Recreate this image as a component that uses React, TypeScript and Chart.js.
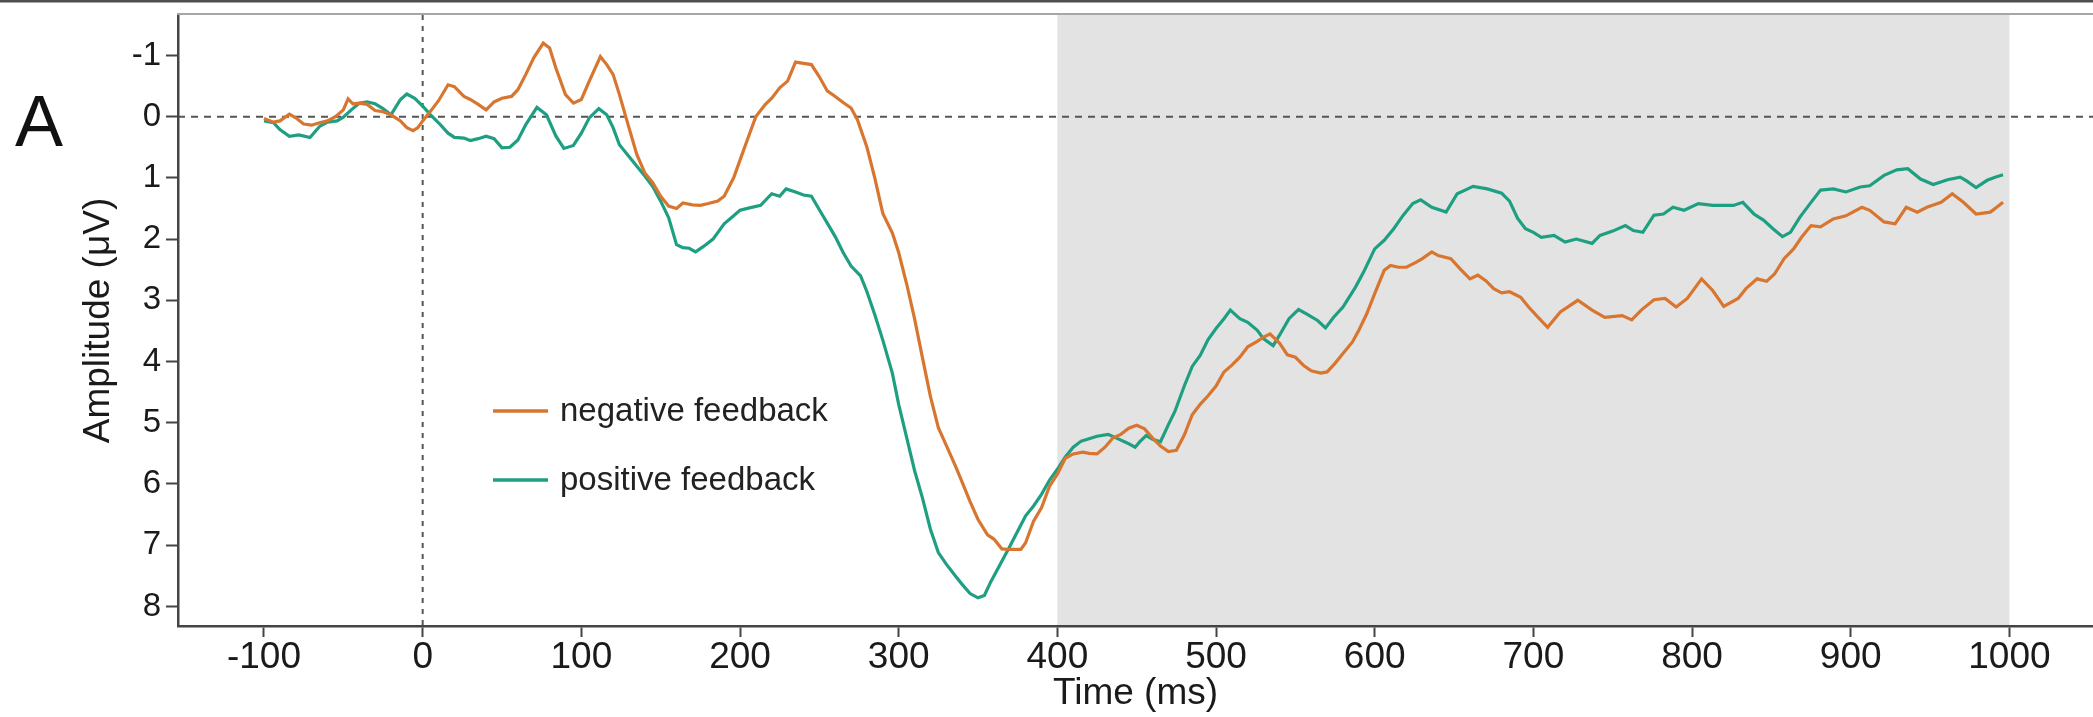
import React, { useEffect, useRef } from "react";
import { Chart, registerables } from "chart.js";

Chart.register(...registerables);

// ---------- data ----------
const panelLabel = "A";
const seriesLabels = ["negative feedback", "positive feedback"];
const xTickValues = [-100, 0, 100, 200, 300, 400, 500, 600, 700, 800, 900, 1000];
const yTickValues = [-1, 0, 1, 2, 3, 4, 5, 6, 7, 8];
const shadeRange = [400, 1000];
const xAxisTitle = "Time (ms)";
const yAxisTitle = "Amplitude (μV)";

const negTimes = [
  -100, -94, -90, -84, -80, -75, -70, -65, -60, -55, -50, -47, -44, -40, -35, -30, -25, -20, -14, -10,
  -6, -3, 0, 5, 10, 16, 20, 26, 30, 35, 40, 45, 50, 56, 60, 65, 70, 76, 80, 84,
  90, 95, 100, 105, 112, 116, 120, 124, 130, 135, 140, 145, 150, 155, 160, 164, 170, 175, 180, 186,
  190, 196, 200, 206, 210, 216, 220, 225, 230, 235, 240, 245, 250, 255, 260, 265, 270, 274, 280, 285,
  290, 296, 300, 305, 310, 315, 320, 325, 330, 336, 340, 345, 350, 356, 360, 365, 370, 377, 380, 385,
  390, 395, 400, 405, 410, 416, 420, 425, 430, 435, 440, 445, 450, 455, 460, 465, 470, 475, 480, 485,
  490, 495, 500, 505, 510, 515, 520, 526, 530, 534, 540, 545, 550, 555, 560, 566, 570, 575, 580, 586,
  590, 595, 600, 606, 610, 615, 620, 626, 630, 636, 640, 648, 654, 660, 665, 670, 675, 680, 685, 692,
  697, 702, 709, 717, 728, 737, 745, 756, 762, 768, 776, 783, 790, 797, 806, 813, 820, 829, 834, 841,
  847, 852, 858, 864, 869, 875, 881, 889, 897, 907, 912, 921, 928, 935, 942, 948, 957, 964, 971, 979,
  988, 992, 996,
];
const negValues = [
  0.03, 0.09, 0.07, -0.04, 0.02, 0.12, 0.14, 0.1, 0.07, 0.0, -0.11, -0.29, -0.21, -0.22, -0.2, -0.1, -0.08, -0.03, 0.07, 0.18,
  0.23, 0.18, 0.07, -0.09, -0.26, -0.52, -0.49, -0.33, -0.28, -0.2, -0.11, -0.24, -0.3, -0.33, -0.44, -0.69, -0.96, -1.2, -1.12, -0.79,
  -0.36, -0.22, -0.28, -0.58, -0.98, -0.85, -0.69, -0.36, 0.18, 0.62, 0.92, 1.08, 1.3, 1.46, 1.5, 1.41, 1.44, 1.45, 1.42, 1.38,
  1.3, 1.0, 0.71, 0.28, 0.0, -0.2, -0.3, -0.47, -0.58, -0.89, -0.87, -0.85, -0.65, -0.42, -0.33, -0.23, -0.14, 0.05, 0.5, 1.01,
  1.58, 1.9, 2.22, 2.73, 3.3, 3.94, 4.57, 5.08, 5.37, 5.72, 5.97, 6.29, 6.58, 6.83, 6.9, 7.06, 7.07, 7.07, 6.96, 6.61,
  6.39, 6.04, 5.84, 5.58, 5.51, 5.48, 5.5, 5.51, 5.4, 5.25, 5.19, 5.09, 5.04, 5.1, 5.25, 5.38, 5.47, 5.45, 5.2, 4.87,
  4.7, 4.56, 4.4, 4.17, 4.06, 3.93, 3.76, 3.67, 3.6, 3.55, 3.7, 3.89, 3.93, 4.06, 4.15, 4.19, 4.17, 4.03, 3.87, 3.68,
  3.49, 3.22, 2.89, 2.51, 2.43, 2.46, 2.46, 2.38, 2.32, 2.21, 2.27, 2.32, 2.49, 2.65, 2.59, 2.68, 2.81, 2.88, 2.86, 2.95,
  3.11, 3.25, 3.44, 3.19, 3.0, 3.16, 3.28, 3.25, 3.32, 3.16, 2.99, 2.97, 3.11, 2.97, 2.65, 2.84, 3.1, 2.97, 2.81, 2.65,
  2.69, 2.57, 2.32, 2.16, 1.97, 1.78, 1.8, 1.67, 1.62, 1.48, 1.53, 1.72, 1.75, 1.48, 1.56, 1.48, 1.4, 1.26, 1.4, 1.59,
  1.56, 1.48, 1.4,
];

const posTimes = [
  -100, -94, -90, -84, -78, -71, -65, -60, -54, -50, -45, -40, -35, -30, -25, -20, -14, -10, -5, 0,
  5, 10, 16, 20, 26, 30, 35, 40, 45, 50, 55, 60, 65, 72, 78, 84, 89, 95, 100, 105,
  111, 116, 120, 124, 130, 135, 140, 145, 150, 155, 160, 164, 168, 172, 177, 183, 190, 196, 200, 206,
  213, 220, 225, 229, 235, 240, 245, 250, 255, 260, 265, 270, 276, 280, 285, 290, 296, 300, 305, 310,
  315, 320, 325, 330, 336, 340, 345, 350, 354, 358, 364, 370, 377, 380, 385, 390, 395, 400, 405, 410,
  415, 420, 425, 432, 438, 444, 449, 452, 456, 460, 465, 470, 474, 480, 485, 490, 495, 500, 505, 509,
  515, 520, 526, 530, 536, 540, 546, 552, 557, 564, 569, 574, 580, 588, 593, 600, 606, 612, 618, 624,
  629, 636, 645, 652, 657, 662, 671, 680, 685, 690, 695, 700, 705, 713, 720, 727, 737, 742, 750, 758,
  763, 769, 776, 782, 788, 795, 804, 813, 826, 832, 839, 845, 851, 857, 862, 868, 875, 881, 889, 897,
  906, 912, 921, 929, 936, 944, 952, 961, 969, 973, 979, 986, 991, 996,
];
const posValues = [
  0.07, 0.1, 0.21, 0.32, 0.3, 0.34, 0.16, 0.09, 0.07, 0.01, -0.11, -0.22, -0.24, -0.21, -0.13, -0.03, -0.28, -0.37, -0.3, -0.17,
  -0.03, 0.1, 0.27, 0.34, 0.35, 0.39, 0.36, 0.32, 0.36, 0.51, 0.5, 0.38, 0.13, -0.15, -0.03, 0.32, 0.52, 0.47, 0.27, 0.02,
  -0.13, -0.03, 0.18, 0.46, 0.65, 0.81, 0.97, 1.14, 1.38, 1.65, 2.09, 2.14, 2.15, 2.21, 2.12, 2.0, 1.75, 1.62, 1.53, 1.49,
  1.45, 1.26, 1.3, 1.18, 1.23, 1.28, 1.3, 1.52, 1.74, 1.96, 2.22, 2.44, 2.6, 2.86, 3.24, 3.65, 4.19, 4.7, 5.24, 5.78,
  6.23, 6.74, 7.12, 7.31, 7.51, 7.64, 7.79, 7.86, 7.82, 7.6, 7.31, 7.02, 6.67, 6.52, 6.36, 6.17, 5.94, 5.76, 5.56, 5.4,
  5.3, 5.26, 5.22, 5.19, 5.26, 5.33, 5.4, 5.31, 5.21, 5.27, 5.31, 5.03, 4.82, 4.4, 4.08, 3.9, 3.64, 3.46, 3.3, 3.16,
  3.3, 3.36, 3.49, 3.63, 3.74, 3.57, 3.3, 3.15, 3.22, 3.33, 3.45, 3.28, 3.11, 2.78, 2.54, 2.16, 2.02, 1.83, 1.61, 1.42,
  1.36, 1.48, 1.56, 1.26, 1.2, 1.14, 1.18, 1.25, 1.38, 1.66, 1.83, 1.89, 1.97, 1.94, 2.05, 2.0, 2.07, 1.94, 1.87, 1.78,
  1.86, 1.89, 1.61, 1.59, 1.48, 1.53, 1.42, 1.45, 1.45, 1.4, 1.59, 1.69, 1.83, 1.96, 1.89, 1.64, 1.4, 1.2, 1.18, 1.23,
  1.15, 1.13, 0.96, 0.87, 0.85, 1.02, 1.11, 1.03, 0.99, 1.05, 1.16, 1.04, 0.99, 0.95,
];

// ---------- styles ----------
const W = 2093;
const H = 717;
const FONT = '"Liberation Sans", Arial, Helvetica, sans-serif';
const ORANGE = "#d87630";
const GREEN = "#1f9f81";
const TEXT = "#1a1a1a";
const AXIS = "#444444";

const decorPlugin = {
  id: "decor",
  beforeDraw(chart: any) {
    const { ctx, chartArea: a, scales } = chart;
    const x = scales.x;
    const y = scales.y;
    ctx.save();
    ctx.fillStyle = "#ffffff";
    ctx.fillRect(0, 0, chart.width, chart.height);
    // shaded analysis window
    const sx0 = x.getPixelForValue(shadeRange[0]);
    const sx1 = x.getPixelForValue(shadeRange[1]);
    ctx.fillStyle = "#e3e3e3";
    ctx.fillRect(sx0, a.top, sx1 - sx0, a.bottom - a.top);
    // dashed reference lines
    ctx.strokeStyle = "#555555";
    ctx.lineWidth = 2;
    ctx.setLineDash([7, 6]);
    const y0 = y.getPixelForValue(0);
    ctx.beginPath();
    ctx.moveTo(a.left, y0);
    ctx.lineTo(a.right, y0);
    ctx.stroke();
    ctx.setLineDash([5, 6]);
    const x0 = x.getPixelForValue(0);
    ctx.beginPath();
    ctx.moveTo(x0, a.top);
    ctx.lineTo(x0, a.bottom);
    ctx.stroke();
    ctx.restore();
  },
  afterDraw(chart: any) {
    const { ctx, chartArea: a } = chart;
    ctx.save();
    // frame top
    ctx.fillStyle = "#4e4e4e";
    ctx.fillRect(0, 0, chart.width, 2.5);
    ctx.strokeStyle = "#a6a6a6";
    ctx.lineWidth = 2;
    ctx.beginPath();
    ctx.moveTo(a.left - 1, a.top - 1);
    ctx.lineTo(a.right, a.top - 1);
    ctx.stroke();
    // panel label
    ctx.fillStyle = "#111111";
    ctx.font = `72px ${FONT}`;
    ctx.textAlign = "left";
    ctx.textBaseline = "alphabetic";
    ctx.fillText(panelLabel, 15, 146);
    // legend
    const items = [
      { label: seriesLabels[0], color: ORANGE, dy: 396 },
      { label: seriesLabels[1], color: GREEN, dy: 465 },
    ];
    ctx.font = `33px ${FONT}`;
    ctx.textBaseline = "middle";
    items.forEach((it) => {
      const ly = a.top + it.dy;
      ctx.strokeStyle = it.color;
      ctx.lineWidth = 3.5;
      ctx.beginPath();
      ctx.moveTo(a.left + 315, ly);
      ctx.lineTo(a.left + 370, ly);
      ctx.stroke();
      ctx.fillStyle = "#222222";
      ctx.fillText(it.label, a.left + 382, ly + 1);
    });
    ctx.restore();
  },
};

export default function App() {
  const canvasRef = useRef<HTMLCanvasElement | null>(null);

  useEffect(() => {
    document.body.style.margin = "0";
    const canvas = canvasRef.current;
    if (!canvas) return;
    const chart = new Chart(canvas, {
      type: "line",
      data: {
        datasets: [
          {
            label: seriesLabels[0],
            data: negTimes.map((t, i) => ({ x: t, y: negValues[i] })),
            borderColor: ORANGE,
            backgroundColor: ORANGE,
            borderWidth: 3.2,
            pointRadius: 0,
            tension: 0,
            fill: false,
          },
          {
            label: seriesLabels[1],
            data: posTimes.map((t, i) => ({ x: t, y: posValues[i] })),
            borderColor: GREEN,
            backgroundColor: GREEN,
            borderWidth: 3.2,
            pointRadius: 0,
            tension: 0,
            fill: false,
          },
        ],
      },
      options: {
        responsive: false,
        animation: false,
        devicePixelRatio: 1,
        layout: { padding: { top: 15, left: 0, right: 0, bottom: 0 } },
        plugins: {
          legend: { display: false },
          tooltip: { enabled: false },
        },
        scales: {
          x: {
            type: "linear",
            min: -154.2,
            max: 1052.7,
            afterBuildTicks: (s: any) => {
              s.ticks = xTickValues.map((v) => ({ value: v }));
            },
            afterFit: (s: any) => {
              s.height = 91;
              s.paddingLeft = 0;
              s.paddingRight = 0;
            },
            grid: {
              display: true,
              drawOnChartArea: false,
              drawTicks: true,
              tickLength: 11,
              tickColor: AXIS,
              tickWidth: 2,
            },
            border: { display: true, color: AXIS, width: 2.5 },
            ticks: {
              autoSkip: false,
              maxRotation: 0,
              padding: 2,
              color: TEXT,
              font: { family: FONT, size: 37, lineHeight: 1 },
              callback: (v: any) => String(v),
            },
            title: {
              display: true,
              text: xAxisTitle,
              color: TEXT,
              font: { family: FONT, size: 37 },
              padding: { top: 0, bottom: 1 },
            },
          },
          y: {
            type: "linear",
            reverse: true,
            min: -1.66,
            max: 8.32,
            afterBuildTicks: (s: any) => {
              s.ticks = yTickValues.map((v) => ({ value: v }));
            },
            afterFit: (s: any) => {
              s.width = 178;
              s.paddingTop = 0;
              s.paddingBottom = 0;
            },
            grid: {
              display: true,
              drawOnChartArea: false,
              drawTicks: true,
              tickLength: 12,
              tickColor: AXIS,
              tickWidth: 2,
            },
            border: { display: true, color: AXIS, width: 2.5 },
            ticks: {
              autoSkip: false,
              padding: 5,
              color: TEXT,
              font: { family: FONT, size: 33, lineHeight: 1 },
              callback: (v: any) => String(v),
            },
            title: {
              display: true,
              text: yAxisTitle,
              color: TEXT,
              font: { family: FONT, size: 37 },
              padding: { top: 77, bottom: 0 },
            },
          },
        },
      },
      plugins: [decorPlugin],
    } as any);
    return () => chart.destroy();
  }, []);

  return (
    <div style={{ width: W, height: H, position: "relative", background: "#fff", overflow: "hidden" }}>
      <canvas ref={canvasRef} width={W} height={H} style={{ display: "block", width: W, height: H }} />
    </div>
  );
}
